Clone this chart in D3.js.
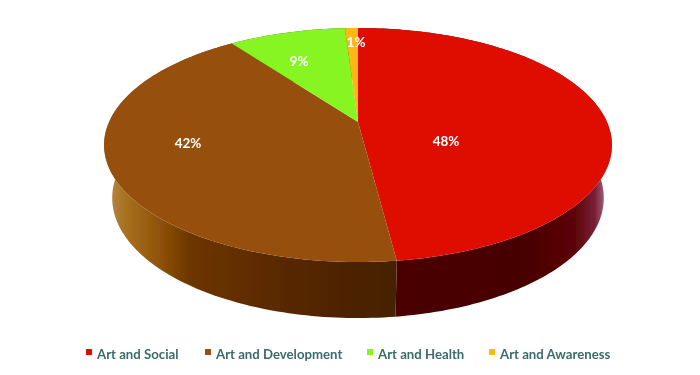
<!DOCTYPE html>
<html>
<head>
<meta charset="utf-8">
<script src="https://cdn.jsdelivr.net/npm/d3@7"></script>
<style>
  html, body { margin: 0; padding: 0; background: #fff; }
  svg { display: block; }
</style>
</head>
<body>
<div id="chart"></div>
<script>
// chart data
var categories = ["Art and Social", "Art and Development", "Art and Health", "Art and Awareness"];
var shares = [48, 42, 9, 1];
var shareLabels = ["48%", "42%", "9%", "1%"];

// styles and layout, kept apart from the data
var topColors = ["#de0e00", "#97500a", "#86f524", "#fdb813"];
var labelPos = [[446, 141], [188, 143], [299, 61], [356, 42]];
var legendX = [89, 208, 370, 492];
var legendY = 354;

var width = 700, height = 375;

// the disc is tilted, so the pie centre sits above the centre of the ellipse
var perspective = 0.1966;
var topDisc = {cx: 358, cy: 122, a: 249, b: 112.5};
var bottomDisc = {cx: 358, cy: 174.4, a: 241, b: 115.4};

function project(disc, angle) {
  var u = Math.sin(angle), v = Math.cos(angle);
  var d = 1 + perspective * v;
  return [disc.cx + disc.a * u / d, disc.cy - disc.b * v / d];
}

function rim(disc, a0, a1) {
  var n = Math.max(2, Math.ceil((a1 - a0) / 0.02));
  return d3.range(n + 1).map(function(i) {
    return project(disc, a0 + (a1 - a0) * i / n);
  });
}

var svg = d3.select("#chart")
  .append("svg")
  .attr("width", width)
  .attr("height", height);

var defs = svg.append("defs");

defs.append("filter").attr("id", "soft")
  .attr("x", "-5%").attr("y", "-5%").attr("width", "110%").attr("height", "110%")
  .append("feGaussianBlur").attr("stdDeviation", 0.5);

// horizontal shading of the side wall
var sideStops = [
  [[396, "#4b0000"], [520, "#470000"], [575, "#5c0508"], [595, "#7a2038"], [606, "#a56a80"]],
  [[106, "#b88a50"], [125, "#a8721f"], [160, "#8f5208"], [190, "#6d3500"], [300, "#552600"], [396, "#452000"]],
  [[200, "#406010"], [300, "#406010"]],
  [[340, "#805c00"], [360, "#805c00"]]
];

sideStops.forEach(function(stops, i) {
  var x0 = stops[0][0], x1 = stops[stops.length - 1][0];
  var pos = d3.scaleLinear().domain([x0, x1]).range([0, 100]);
  var grad = defs.append("linearGradient")
    .attr("id", "side" + i)
    .attr("gradientUnits", "userSpaceOnUse")
    .attr("x1", x0).attr("x2", x1)
    .attr("y1", 0).attr("y2", 0);
  stops.forEach(function(s) {
    grad.append("stop").attr("offset", pos(s[0]) + "%").attr("stop-color", s[1]);
  });
});

var pie = d3.pie().sort(null).value(function(d) { return d; });
var arcs = pie(shares);
var line = d3.line();

var g = svg.append("g").attr("filter", "url(#soft)");

// side wall first, the top covers whatever faces away
g.selectAll("path.side")
  .data(arcs)
  .enter()
  .append("path")
  .attr("class", "side")
  .attr("fill", function(d, i) { return "url(#side" + i + ")"; })
  .attr("d", function(d) {
    var pts = rim(topDisc, d.startAngle, d.endAngle)
      .concat(rim(bottomDisc, d.startAngle, d.endAngle).reverse());
    return line(pts) + "Z";
  });

// top face
g.selectAll("path.top")
  .data(arcs)
  .enter()
  .append("path")
  .attr("class", "top")
  .attr("fill", function(d, i) { return topColors[i]; })
  .attr("d", function(d) {
    var pts = [[topDisc.cx, topDisc.cy]].concat(rim(topDisc, d.startAngle, d.endAngle));
    return line(pts) + "Z";
  });

// percent labels
g.selectAll("text.pct")
  .data(shareLabels)
  .enter()
  .append("text")
  .attr("class", "pct")
  .attr("x", function(d, i) { return labelPos[i][0]; })
  .attr("y", function(d, i) { return labelPos[i][1]; })
  .attr("text-anchor", "middle")
  .attr("dy", "0.35em")
  .style("font-family", "Lato, 'Open Sans', sans-serif")
  .style("font-weight", 700)
  .style("font-size", "13.5px")
  .style("fill", "#fff")
  .text(function(d) { return d; });

// legend
var legend = g.selectAll("g.legend")
  .data(categories)
  .enter()
  .append("g")
  .attr("class", "legend")
  .attr("transform", function(d, i) { return "translate(" + legendX[i] + "," + legendY + ")"; });

legend.append("rect")
  .attr("x", -3).attr("y", -5)
  .attr("width", 6).attr("height", 6)
  .attr("fill", function(d, i) { return topColors[i]; });

legend.append("text")
  .attr("x", 8)
  .attr("dy", "0.35em")
  .style("font-family", "Lato, 'Open Sans', sans-serif")
  .style("font-weight", 700)
  .style("font-size", "13.2px")
  .style("fill", "#3c6a6c")
  .text(function(d) { return d; });
</script>
</body>
</html>
